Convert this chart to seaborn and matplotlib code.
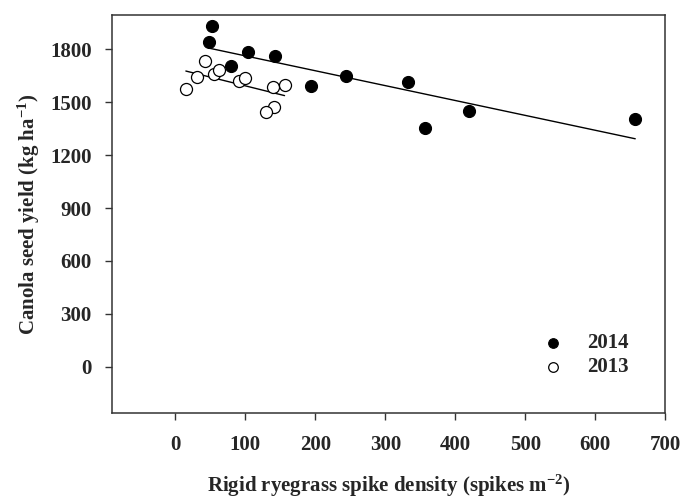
import numpy as np
import pandas as pd
import seaborn as sns
import matplotlib.pyplot as plt

# 2014 season (filled)
x_2014 = [52, 48, 104, 143, 79, 244, 194, 332, 356, 420, 657]
y_2014 = [1935, 1841, 1788, 1760, 1707, 1650, 1595, 1616, 1357, 1448, 1408]
# 2013 season (open)
x_2013 = [15, 31, 43, 55, 62, 91, 100, 139, 156, 141, 130]
y_2013 = [1574, 1644, 1733, 1661, 1684, 1622, 1635, 1589, 1599, 1476, 1444]

df14 = pd.DataFrame({'density': x_2014, 'yield': y_2014})
df13 = pd.DataFrame({'density': x_2013, 'yield': y_2013})

sns.set_style('ticks')
plt.rcParams['font.family'] = ['Liberation Serif', 'DejaVu Serif']
plt.rcParams['font.weight'] = 'bold'
plt.rcParams['mathtext.fontset'] = 'custom'
plt.rcParams['mathtext.rm'] = 'Liberation Serif:bold'
plt.rcParams['mathtext.bf'] = 'Liberation Serif:bold'
plt.rcParams['mathtext.it'] = 'Liberation Serif:bold'

fig = plt.figure(figsize=(6.81, 5.0), dpi=100)
ax = fig.add_axes([0.165, 0.174, 0.812, 0.796])

# regression lines
sns.regplot(data=df14, x='density', y='yield', scatter=False, ci=None,
            color='black', line_kws={'lw': 1.0}, ax=ax)
sns.regplot(data=df13, x='density', y='yield', scatter=False, ci=None,
            color='black', line_kws={'lw': 1.0}, ax=ax)

sns.scatterplot(data=df14, x='density', y='yield', color='black', edgecolor='black',
                s=75, linewidth=0.8, label='2014', ax=ax, zorder=3)
sns.scatterplot(data=df13, x='density', y='yield', color='white', edgecolor='black',
                s=75, linewidth=0.9, label='2013', ax=ax, zorder=3)

ax.set_xlim(-90, 700)
ax.set_ylim(-262, 1995)
ax.set_xticks(range(0, 701, 100))
ax.set_yticks(range(0, 1801, 300))

for side in ['left', 'right', 'top', 'bottom']:
    ax.spines[side].set_visible(True)
    ax.spines[side].set_color('#333333')
    ax.spines[side].set_linewidth(1.1)

ax.tick_params(axis='both', direction='out', length=5, width=1, color='#333333',
               labelsize=15)
ax.tick_params(axis='x', pad=11)
ax.tick_params(axis='y', pad=10)
for lab in ax.get_xticklabels() + ax.get_yticklabels():
    lab.set_fontweight('bold')

ax.set_xlabel('Rigid ryegrass spike density (spikes m$^{\\mathbf{-2}}$)', fontsize=15,
              fontweight='bold', labelpad=13)
ax.set_ylabel('Canola seed yield (kg ha$^{\\mathbf{-1}}$)', fontsize=15,
              fontweight='bold', labelpad=6)

leg = ax.legend(loc='center left', frameon=False, fontsize=15, handletextpad=0.6,
                markerscale=0.8, borderaxespad=0, labelspacing=0.2,
                bbox_to_anchor=(0.745, 0.145))
for t in leg.get_texts():
    t.set_fontweight('bold')

plt.savefig('out.png', dpi=100)
